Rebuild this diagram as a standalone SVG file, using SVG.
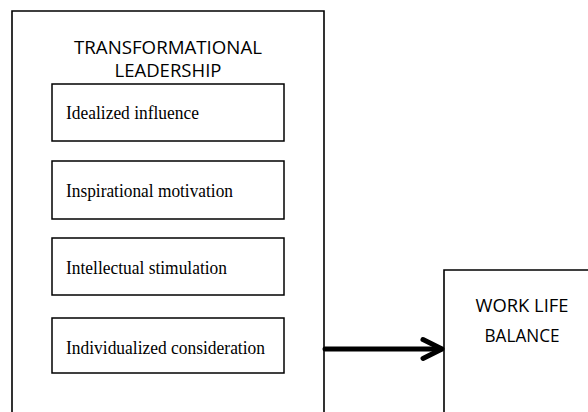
<svg xmlns="http://www.w3.org/2000/svg" width="588" height="412" viewBox="0 0 588 412">
<style>
.box{fill:#fff;stroke:#000;stroke-width:1.6}
.inner{fill:#fff;stroke:#000;stroke-width:1.5}
.sans{font-family:"Open Sans","Liberation Sans",Arial,sans-serif;font-size:18px;fill:#000;text-anchor:middle}
.serif{font-family:"Liberation Serif","Times New Roman",serif;font-size:19px;fill:#000}
.conn{fill:none;stroke:#000;stroke-width:5;stroke-linecap:round;stroke-linejoin:round}
</style>
<rect width="588" height="412" fill="#fff"/>
<g id="transformational-leadership">
<path class="box" d="M12 413 V11 H324 V413"/>
<text class="sans" x="168" y="54" textLength="188" lengthAdjust="spacingAndGlyphs">TRANSFORMATIONAL</text>
<text class="sans" x="168" y="77" textLength="107" lengthAdjust="spacingAndGlyphs">LEADERSHIP</text>
</g>
<g id="idealized-influence">
<rect class="inner" x="52" y="84" width="232" height="57"/>
<text class="serif" x="66" y="119" textLength="133" lengthAdjust="spacingAndGlyphs">Idealized influence</text>
</g>
<g id="inspirational-motivation">
<rect class="inner" x="52" y="161" width="232" height="58"/>
<text class="serif" x="66" y="197" textLength="167" lengthAdjust="spacingAndGlyphs">Inspirational motivation</text>
</g>
<g id="intellectual-stimulation">
<rect class="inner" x="52" y="238" width="232" height="57"/>
<text class="serif" x="66" y="274" textLength="161" lengthAdjust="spacingAndGlyphs">Intellectual stimulation</text>
</g>
<g id="individualized-consideration">
<rect class="inner" x="52" y="318" width="232" height="55"/>
<text class="serif" x="66" y="354" textLength="199" lengthAdjust="spacingAndGlyphs">Individualized consideration</text>
</g>
<g id="work-life-balance">
<path class="box" d="M444 413 V270 H589"/>
<text class="sans" x="522" y="312" textLength="93" lengthAdjust="spacingAndGlyphs">WORK LIFE</text>
<text class="sans" x="522" y="342" textLength="75" lengthAdjust="spacingAndGlyphs">BALANCE</text>
</g>
<g id="connectors">
<path class="conn" d="M325 349 H441"/>
<path class="conn" d="M423 339.5 L442 349 L423 358.5"/>
</g>
</svg>
